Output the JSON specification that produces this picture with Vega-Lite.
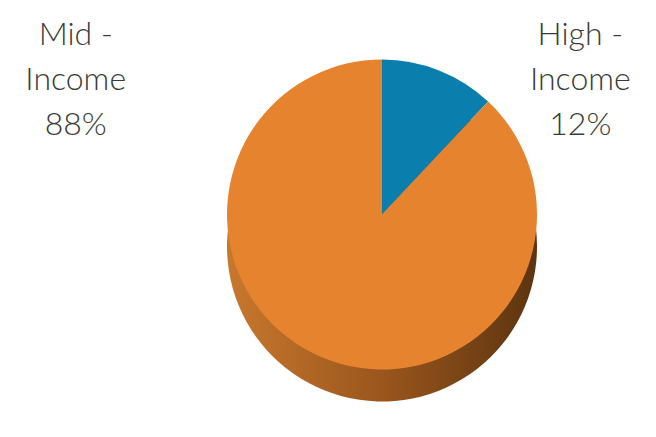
{
  "$schema": "https://vega.github.io/schema/vega-lite/v6.json",
  "width": 656,
  "height": 437,
  "autosize": {"type": "fit", "contains": "padding"},
  "padding": 0,
  "background": "white",
  "config": {"view": {"stroke": null}},
  "data": {
    "values": [
      {"category": "High - Income", "value": 12, "label": ["High -", "Income", "12%"]},
      {"category": "Mid - Income", "value": 88, "label": ["Mid -", "Income", "88%"]}
    ]
  },
  "layer": [
    {
      "mark": {
        "type": "arc",
        "radius": 155,
        "xOffset": 54,
        "yOffset": 28,
        "stroke": null,
        "fill": {
          "gradient": "linear",
          "x1": 0, "y1": 0, "x2": 1, "y2": 0,
          "stops": [
            {"offset": 0, "color": "#C8782D"},
            {"offset": 0.5, "color": "#9A561D"},
            {"offset": 1, "color": "#5C3410"}
          ]
        }
      },
      "encoding": {
        "theta": {"field": "value", "type": "quantitative", "stack": true},
        "order": {"field": "value", "sort": "ascending"}
      }
    },
    {
      "mark": {"type": "arc", "radius": 155, "xOffset": 54, "yOffset": -4, "stroke": null},
      "encoding": {
        "theta": {"field": "value", "type": "quantitative", "stack": true},
        "order": {"field": "value", "sort": "ascending"},
        "color": {
          "field": "category",
          "type": "nominal",
          "scale": {"domain": ["High - Income", "Mid - Income"], "range": ["#0A7FAE", "#E5832F"]},
          "legend": null
        }
      }
    },
    {
      "mark": {
        "type": "text",
        "font": "Lato",
        "fontSize": 32,
        "fontWeight": 300,
        "color": "#3A3A3A",
        "align": "center",
        "baseline": "top",
        "lineHeight": 45
      },
      "encoding": {
        "x": {
          "field": "category",
          "type": "nominal",
          "scale": {"type": "point", "domain": ["Mid - Income", "High - Income"], "padding": 0.15},
          "axis": null
        },
        "y": {"value": 20},
        "text": {"field": "label"}
      }
    }
  ]
}
